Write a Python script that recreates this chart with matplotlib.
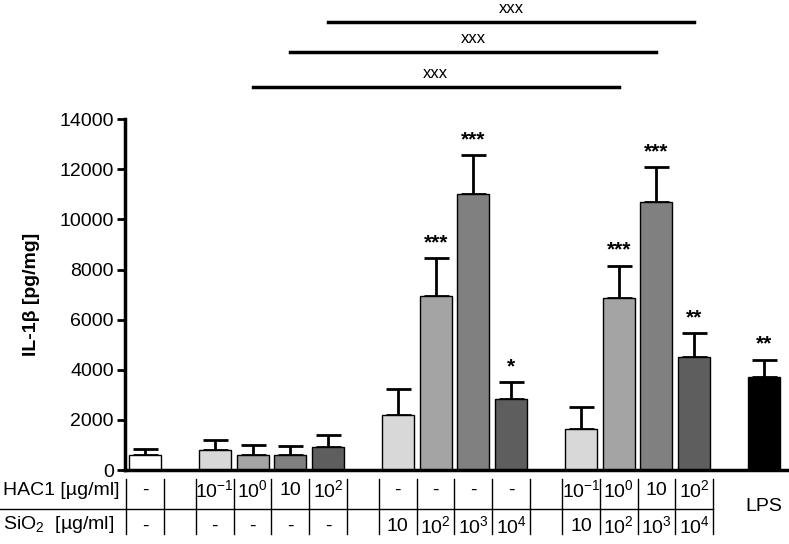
import numpy as np
import matplotlib
matplotlib.use("Agg")
import matplotlib.pyplot as plt
from matplotlib.transforms import blended_transform_factory

# bar positions (groups separated by a wider gap)
positions = [0, 1.85, 2.85, 3.85, 4.85, 6.7, 7.7, 8.7, 9.7, 11.55, 12.55, 13.55, 14.55, 16.4]
values = [580, 800, 600, 580, 920, 2180, 6950, 11000, 2850, 1650, 6850, 10680, 4500, 3700]
errors = [260, 400, 400, 370, 480, 1070, 1500, 1550, 650, 870, 1300, 1400, 950, 700]
colors = ["#ffffff", "#d8d8d8", "#a4a4a4", "#808080", "#5e5e5e",
          "#d8d8d8", "#a4a4a4", "#808080", "#5e5e5e",
          "#d8d8d8", "#a4a4a4", "#808080", "#5e5e5e", "#000000"]
stars = ["", "", "", "", "", "", "***", "***", "*", "", "***", "***", "**", "**"]

hac1_labels = ["-", "10$^{-1}$", "10$^{0}$", "10", "10$^{2}$", "-", "-", "-", "-",
               "10$^{-1}$", "10$^{0}$", "10", "10$^{2}$"]
sio2_labels = ["-", "-", "-", "-", "-", "10", "10$^{2}$", "10$^{3}$", "10$^{4}$",
               "10", "10$^{2}$", "10$^{3}$", "10$^{4}$"]

# comparison brackets: (bar index from, bar index to, height)
brackets = [(2, 10, 15280), (3, 11, 16670), (4, 12, 17870)]

plt.rcParams["font.family"] = ["Liberation Sans", "DejaVu Sans"]
plt.rcParams["mathtext.fontset"] = "custom"
plt.rcParams["mathtext.rm"] = "Liberation Sans"
plt.rcParams["mathtext.it"] = "Liberation Sans:italic"
plt.rcParams["mathtext.default"] = "regular"

fig = plt.figure(figsize=(7.89, 5.44), dpi=100)
ax = fig.add_axes([0.1584, 0.136, 0.84, 0.645])

ax.bar(positions, values, width=0.85, color=colors, edgecolor="black", linewidth=1, zorder=2)
ax.errorbar(positions, values, yerr=[np.zeros(len(errors)), errors], fmt="none",
            ecolor="black", elinewidth=2, capsize=9, capthick=2, zorder=1)

for x, v, e, s in zip(positions, values, errors, stars):
    if s:
        ax.text(x, v + e + 250, s, ha="center", va="bottom", fontsize=15, fontweight="bold")

for i, j, h in brackets:
    ax.plot([positions[i], positions[j]], [h, h], color="black", lw=2.5, clip_on=False)
    ax.text((positions[i] + positions[j]) / 2, h + 250, "xxx", ha="center", va="bottom",
            fontsize=12)

ax.set_ylim(0, 14000)
ax.set_xlim(-0.53, 17.03)
ax.set_yticks(np.arange(0, 14001, 2000))
ax.tick_params(axis="y", labelsize=14, width=2, length=6, pad=2)
ax.set_xticks([])
ax.spines["top"].set_visible(False)
ax.spines["right"].set_visible(False)
ax.spines["left"].set_linewidth(2.5)
ax.spines["bottom"].set_linewidth(2.5)
ax.set_ylabel("IL-1β [pg/mg]", fontsize=14, fontweight="bold", labelpad=14)

# treatment table below the axis
tr = blended_transform_factory(ax.transData, ax.transAxes)
row1_y, row2_y = -0.057, -0.16
for x, a, b in zip(positions[:13], hac1_labels, sio2_labels):
    ax.text(x, row1_y, a, transform=tr, ha="center", va="center", fontsize=14, clip_on=False)
    ax.text(x, row2_y, b, transform=tr, ha="center", va="center", fontsize=14, clip_on=False)
ax.text(positions[13], -0.105, "LPS", transform=tr, ha="center", va="center", fontsize=14)

groups = [[0], [1, 2, 3, 4], [5, 6, 7, 8], [9, 10, 11, 12]]
sep = []
for g in groups:
    sep.append(positions[g[0]] - 0.5)
    for k in range(len(g) - 1):
        sep.append((positions[g[k]] + positions[g[k + 1]]) / 2)
    sep.append(positions[g[-1]] + 0.5)
for x in sep:
    ax.plot([x, x], [-0.026, -0.182], transform=tr, color="black", lw=1, clip_on=False)

x_end = (positions[12] + 0.5 - ax.get_xlim()[0]) / (ax.get_xlim()[1] - ax.get_xlim()[0])
fig.add_artist(plt.Line2D([0, 0.1584 + 0.84 * x_end], [0.0643, 0.0643],
                          transform=fig.transFigure, color="black", lw=1))

fig.text(0.004, 0.099, "HAC1 [µg/ml]", ha="left", va="center", fontsize=14)
fig.text(0.004, 0.035, "SiO$_2$  [µg/ml]", ha="left", va="center", fontsize=14)

fig.savefig("out.png", dpi=100)
